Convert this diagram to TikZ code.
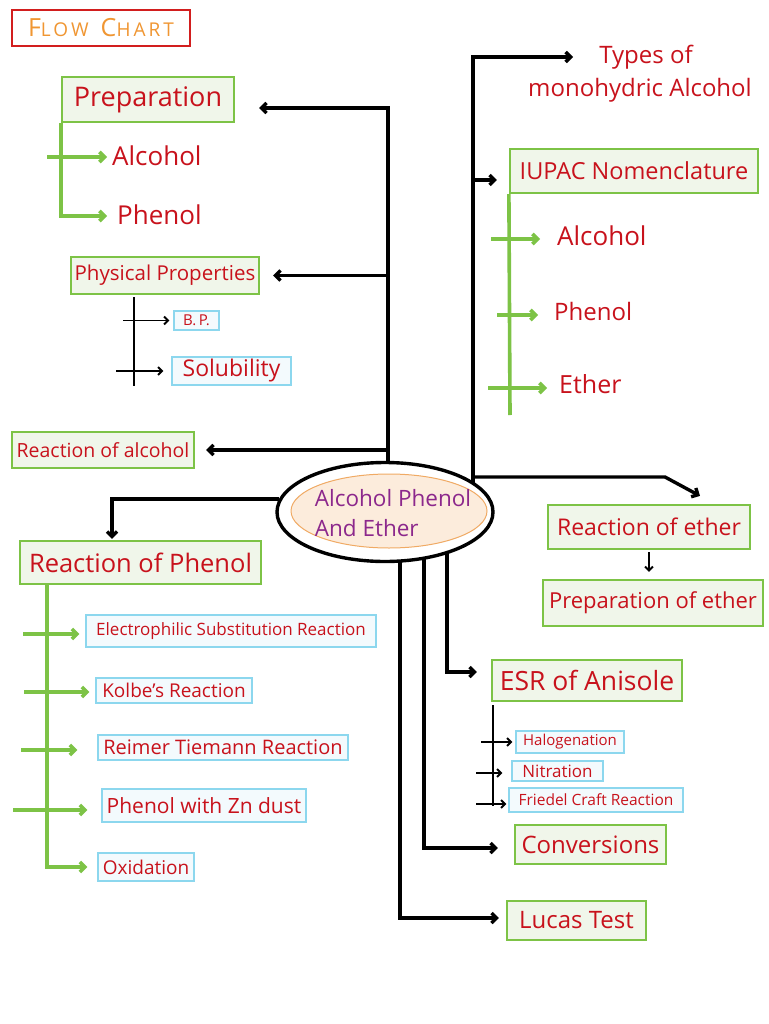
\documentclass[tikz,border=0pt]{standalone}
\usepackage{fontspec}
\setmainfont{Open Sans}
\usetikzlibrary{shapes.geometric,arrows.meta,calc}
\definecolor{tred}{RGB}{200,18,28}
\definecolor{gbord}{RGB}{125,195,70}
\definecolor{gfill}{RGB}{240,246,234}
\definecolor{cbord}{RGB}{140,215,238}
\definecolor{cfill}{RGB}{243,250,253}
\definecolor{torange}{RGB}{240,150,50}
\definecolor{tpurple}{RGB}{140,40,140}
\definecolor{peach}{RGB}{252,236,220}
\definecolor{eorange}{RGB}{240,170,100}
\definecolor{fred}{RGB}{210,30,30}
\newcommand\fsz[2]{\fontsize{#1}{#2}\selectfont}
\tikzset{
 gbox/.style={draw=gbord, fill=gfill, line width=2.2pt, text=tred, inner sep=0pt},
 cbox/.style={draw=cbord, fill=cfill, line width=1.2pt, text=tred, inner sep=0pt},
 lbl/.style={text=tred, inner sep=2pt, anchor=west},
 blk/.style={draw=black, line width=3.4pt},
 blkarr/.style={blk, -{Straight Barb[length=5pt,width=10pt]}},
 thn/.style={draw=black, line width=1.9pt},
 thnarr/.style={thn, -{Straight Barb[length=4pt,width=8pt]}},
 grn/.style={draw=gbord, line width=3.6pt},
 grnarr/.style={grn, -{Straight Barb[length=5pt,width=10pt]}},
}
\begin{document}
\begin{tikzpicture}[x=1pt,y=-1pt]
\useasboundingbox (0,0) rectangle (768,1024);
\fill[white] (0,0) rectangle (768,1024);

% title
\node[draw=fred, line width=2.2pt, fill=white, minimum width=178pt, minimum height=36pt, text=torange, inner sep=0pt, font=\addfontfeatures{LetterSpace=16}] (flow) at (101,28)
 {\fsz{25}{25}F\fsz{19}{19}LOW\hspace{12pt}\fsz{25}{25}C\fsz{19}{19}HART};

% ellipse
\node[ellipse, draw=black, line width=3.4pt, fill=white, minimum width=216pt, minimum height=99pt, inner sep=0pt] (ell) at (385,512) {};
\node[ellipse, draw=eorange, line width=1pt, fill=peach, minimum width=196pt, minimum height=74pt, inner sep=0pt] (elli) at (389,511) {};
\node[text=tpurple, align=left, font=\fsz{22.5}{30}, inner sep=0pt] (etxt) at (393,513) {Alcohol Phenol\\And Ether};

% left column
\node[gbox, minimum width=172pt, minimum height=45pt, font=\fsz{27}{27}] (prep) at (148,99.5) {Preparation};
\coordinate (pa1) at (107,157);
\coordinate (pa2) at (107,216);
\node[lbl, font=\fsz{26}{26}] (alc1) at (110,156) {Alcohol};
\node[lbl, font=\fsz{26}{26}] (phen1) at (115,215) {Phenol};

\node[gbox, minimum width=188pt, minimum height=37pt, font=\fsz{20.5}{20.5}] (phys) at (165,275.5) {Physical Properties};
\node[cbox, minimum width=45pt, minimum height=19pt, font=\fsz{15}{15}] (bp) at (196.5,320.5) {B.\,P.};
\node[cbox, minimum width=119pt, minimum height=28pt, font=\fsz{23}{23}] (sol) at (231.5,371) {Solubility};
\coordinate (pv1) at (134,297);
\coordinate (pv2) at (134,386);

\node[gbox, minimum width=182pt, minimum height=36pt, font=\fsz{19.5}{19.5}] (ralc) at (103,450) {Reaction of alcohol};

\node[gbox, minimum width=241pt, minimum height=43pt, font=\fsz{25.5}{25.5}] (rphen) at (140.5,562.5) {Reaction of Phenol};
\node[cbox, minimum width=290pt, minimum height=32pt, font=\fsz{17}{17}] (esr) at (231,631) {Electrophilic Substitution Reaction};
\node[cbox, minimum width=156pt, minimum height=25pt, font=\fsz{19}{19}] (kolbe) at (174,690.5) {Kolbe's Reaction};
\node[cbox, minimum width=250pt, minimum height=25pt, font=\fsz{20}{20}] (reimer) at (223,747.5) {Reimer Tiemann Reaction};
\node[cbox, minimum width=204pt, minimum height=33pt, font=\fsz{21}{21}] (zn) at (204,805.5) {Phenol with Zn dust};
\node[cbox, minimum width=96pt, minimum height=28pt, font=\fsz{19}{19}] (oxid) at (146,867) {Oxidation};

% right column
\node[text=tred, align=center, font=\fsz{24}{33}, inner sep=0pt] (types) at (640,74) {\hspace*{12pt}Types of\\monohydric Alcohol};
\coordinate (tyarr) at (573,57);
\node[gbox, minimum width=248pt, minimum height=44pt, font=\fsz{23.5}{23.5}] (iupac) at (634,171) {IUPAC Nomenclature};
\coordinate (iv) at (510,415);
\node[lbl, font=\fsz{26}{26}] (alc2) at (555,236) {Alcohol};
\node[lbl, font=\fsz{24}{24}] (phen2) at (552,311) {Phenol};
\node[lbl, font=\fsz{25}{25}] (ether) at (557,384) {Ether};

\node[gbox, minimum width=202pt, minimum height=44pt, font=\fsz{23}{23}] (rether) at (649,527) {Reaction of ether};
\node[gbox, minimum width=220pt, minimum height=46pt, font=\fsz{22}{22}] (pether) at (653,603) {Preparation of ether};
\coordinate (rk) at (665,477);

\node[gbox, minimum width=190pt, minimum height=41pt, font=\fsz{26.5}{26.5}] (anis) at (587,680.5) {ESR of Anisole};
\node[cbox, minimum width=108pt, minimum height=22pt, font=\fsz{15}{15}] (halo) at (570,742) {Halogenation};
\node[cbox, minimum width=91pt, minimum height=20pt, font=\fsz{17}{17}] (nitr) at (557.5,771) {Nitration};
\node[cbox, minimum width=174pt, minimum height=24pt, font=\fsz{15.5}{15.5}] (fried) at (596,800) {Friedel Craft Reaction};
\coordinate (ev1) at (493,705);
\coordinate (ev2) at (493,806);

\node[gbox, minimum width=151pt, minimum height=39pt, font=\fsz{24}{24}] (conv) at (590.5,844.5) {Conversions};
\node[gbox, minimum width=139pt, minimum height=39pt, font=\fsz{24}{24}] (lucas) at (576.5,920.5) {Lucas Test};

\coordinate (ltb) at (388,463);
\coordinate (rtb) at (473,483);
\coordinate (b1) at (400,560);
\coordinate (b2) at (424,557);
\coordinate (b3) at (447,552);

% ---- connectors ----
% left trunk
\draw[blkarr] (ltb) |- ([xshift=24pt,yshift=-8.5pt]prep.east);
\draw[blkarr] (ltb |- phys.east) -- ([xshift=13pt]phys.east);
\draw[blkarr] (ltb |- ralc.east) -- ([xshift=11pt]ralc.east);
% to reaction of phenol
\draw[blkarr] (ell.173) -- (ell.173 -| 112,0) -- ([xshift=-28.5pt,yshift=1pt]rphen.north);

% preparation sublist
\draw[grnarr] (prep.south west) |- (pa2);
\draw[grnarr] ([xshift=-60pt]pa1) -- (pa1);

% physical properties sublist
\draw[thn] (pv1) -- (pv2);
\draw[thnarr] ([xshift=-50pt]bp.west) -- ([xshift=-4pt]bp.west);
\draw[thnarr] ([xshift=-55pt]sol.west) -- ([xshift=-8pt]sol.west);

% reaction of phenol sublist
\draw[grnarr] ([xshift=28pt]rphen.south west) |- ([xshift=-10pt]oxid.west);
\draw[grnarr] ([xshift=-62pt,yshift=-3pt]esr.west) -- ([xshift=-6pt,yshift=-3pt]esr.west);
\draw[grnarr] ([xshift=-71pt,yshift=-1.5pt]kolbe.west) -- ([xshift=-6pt,yshift=-1.5pt]kolbe.west);
\draw[grnarr] ([xshift=-76pt,yshift=-2.5pt]reimer.west) -- ([xshift=-20pt,yshift=-2.5pt]reimer.west);
\draw[grnarr] ([xshift=-88pt,yshift=-4.5pt]zn.west) -- ([xshift=-14pt,yshift=-4.5pt]zn.west);

% right trunk
\draw[blkarr] (rtb) |- (tyarr);
\draw[blkarr] ($(rtb |- iupac.west)+(0,9)$) -- ([xshift=-12pt,yshift=-9pt]iupac.west);
\draw[grn] (iupac.south west) -- (iv);
\draw[grnarr] (491,239) coordinate (ia1) -- ([xshift=-15pt]alc2.west |- ia1);
\draw[grnarr] (497,315) coordinate (ia2) -- ([xshift=-14pt]phen2.west |- ia2);
\draw[grnarr] (488,388) coordinate (ia3) -- ([xshift=-10pt]ether.west |- ia3);

% ether branch
\draw[blkarr] (rtb |- rk) -- (rk) -- ([xshift=51pt,yshift=8pt]rether.north);
\draw[thnarr] ([yshift=-2pt]rether.south) -- ([yshift=7pt]rether.south |- pether.north);

% bottom branches
\draw[blkarr] (b3) |- ([xshift=-14pt,yshift=8.5pt]anis.west);
\draw[blkarr] (b2) |- ([xshift=-16pt,yshift=-3.5pt]conv.west);
\draw[blkarr] (b1) |- ([xshift=-7pt,yshift=2.5pt]lucas.west);

% ESR sublist
\draw[thn] (ev1) -- (ev2);
\draw[thnarr] ([xshift=-34pt]halo.west) -- ([xshift=-3pt]halo.west);
\draw[thnarr] ([xshift=-35pt,yshift=-2pt]nitr.west) -- ([xshift=-9pt,yshift=-2pt]nitr.west);
\draw[thnarr] ([xshift=-32pt,yshift=-4pt]fried.west) -- ([xshift=-2pt,yshift=-4pt]fried.west);
\end{tikzpicture}
\end{document}
